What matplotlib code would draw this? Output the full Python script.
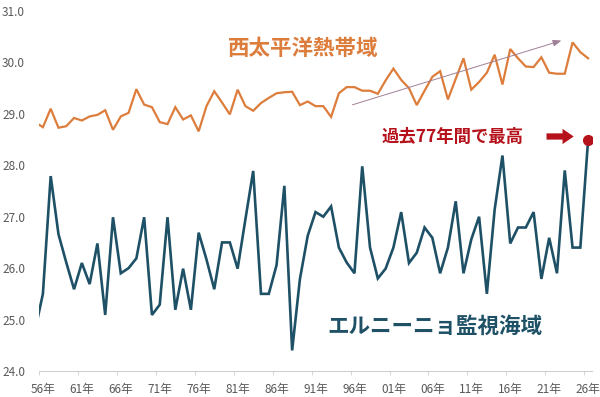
import numpy as np
import matplotlib.pyplot as plt

plt.rcParams['font.family'] = ['Noto Sans CJK JP', 'DejaVu Sans']

years = list(range(1955, 2027))

# 西太平洋熱帯域
west_pacific = [28.84, 28.74, 29.10, 28.73, 28.76, 28.92, 28.87, 28.95, 28.98, 29.07,
                28.69, 28.95, 29.02, 29.48, 29.18, 29.13, 28.84, 28.80, 29.13, 28.89,
                28.97, 28.66, 29.15, 29.44, 29.22, 28.99, 29.47, 29.15, 29.06, 29.21,
                29.31, 29.40, 29.42, 29.43, 29.17, 29.24, 29.15, 29.15, 28.94, 29.40,
                29.52, 29.52, 29.45, 29.45, 29.39, 29.65, 29.88, 29.66, 29.50, 29.17,
                29.45, 29.72, 29.83, 29.28, 29.68, 30.08, 29.47, 29.62, 29.80, 30.15,
                29.57, 30.26, 30.08, 29.92, 29.91, 30.10, 29.80, 29.78, 29.78, 30.39,
                30.20, 30.08]

# エルニーニョ監視海域
nino_region = [24.79, 25.50, 27.79, 26.66, 26.11, 25.59, 26.10, 25.69, 26.48, 25.09,
               26.99, 25.90, 26.00, 26.19, 26.99, 25.09, 25.29, 26.99, 25.19, 25.99,
               25.19, 26.69, 26.17, 25.59, 26.50, 26.50, 25.99, 26.95, 27.89, 25.50,
               25.50, 26.06, 27.60, 24.40, 25.79, 26.63, 27.09, 27.00, 27.20, 26.40,
               26.11, 25.90, 27.98, 26.40, 25.80, 25.99, 26.40, 27.09, 26.10, 26.30,
               26.79, 26.59, 25.90, 26.40, 27.30, 25.90, 26.56, 27.00, 25.50, 27.14,
               28.19, 26.48, 26.79, 26.79, 27.09, 25.79, 26.59, 25.90, 27.90, 26.40,
               26.40, 28.50]

label_years = list(range(1956, 2027, 5))
label_text = [f"{y % 100:02d}年" for y in label_years]
yticks = [24, 25, 26, 27, 28, 29, 30, 31]

orange = '#DD7D3C'
teal = '#1E5066'
red = '#B5121B'
gray = '#595959'

fig = plt.figure(figsize=(6, 3.97), dpi=100)
ax = fig.add_axes([0.065, 0.0655, 0.9217, 0.9068])

ax.plot(years, west_pacific, color=orange, lw=1.6, solid_joinstyle='miter')
ax.plot(years, nino_region, color=teal, lw=1.9, solid_joinstyle='miter')
ax.plot(years[-1], nino_region[-1], 'o', color=red, ms=7, zorder=5)

ax.set_xlim(1955.5, 2026.5)
ax.set_ylim(24, 31)

ax.set_yticks(yticks)
ax.set_yticklabels([f"{v:.1f}" for v in yticks])
ax.set_xticks(label_years)
ax.set_xticklabels(label_text)
ax.set_xticks(np.arange(1955.5, 2026, 5), minor=True)
ax.tick_params(axis='x', which='major', length=0, pad=9, labelsize=8.5, labelcolor=gray)
ax.tick_params(axis='x', which='minor', length=3, color='#d0d0d0')
ax.tick_params(axis='y', length=0, pad=10, labelsize=8.5, labelcolor=gray)

for s in ['top', 'right', 'left']:
    ax.spines[s].set_visible(False)
ax.spines['bottom'].set_color('#d0d0d0')

ax.text(1989.4, 30.28, '西太平洋熱帯域', color=orange, fontsize=15.5, fontweight='bold',
        ha='center', va='center')
ax.text(2006.3, 24.86, 'エルニーニョ監視海域', color=teal, fontsize=15.5, fontweight='bold',
        ha='center', va='center')
ax.text(1999.5, 28.55, '過去77年間で最高', color=red, fontsize=12.5, fontweight='bold',
        ha='left', va='center')

ax.annotate('', xy=(2024.5, 28.56), xytext=(2020.3, 28.56),
            arrowprops=dict(arrowstyle='simple,head_width=1.1,head_length=0.8,tail_width=0.45',
                            color=red, lw=0))
ax.annotate('', xy=(2022.9, 30.44), xytext=(1995.4, 29.16),
            arrowprops=dict(arrowstyle='-|>,head_width=0.2,head_length=0.5',
                            color='#a08096', lw=0.7))

fig.savefig('out.png', dpi=100)
